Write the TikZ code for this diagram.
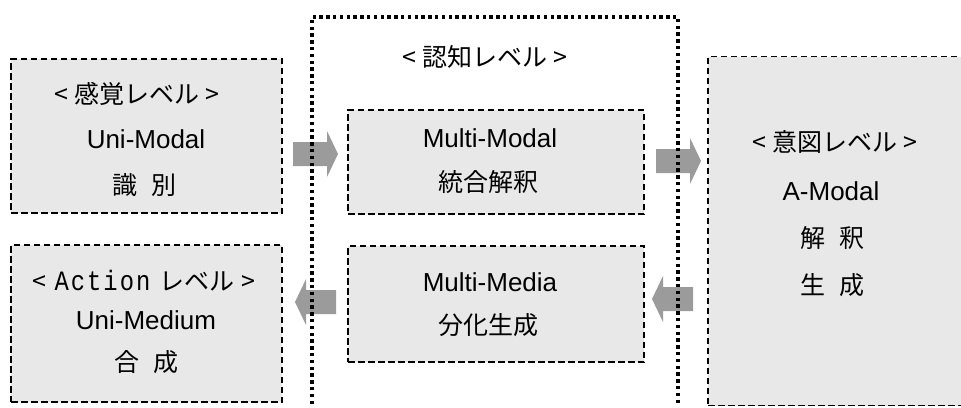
\documentclass[tikz,border=0pt]{standalone}
\usepackage{fontspec}
\setmainfont{Liberation Sans}
\newfontfamily\jp{Noto Sans CJK JP}
\newfontfamily\monofam[FakeStretch=0.85]{Liberation Mono}
\usetikzlibrary{calc}
\definecolor{boxfill}{RGB}{232,232,232}
\definecolor{arrcol}{RGB}{155,155,155}
\newcommand\rarr[2]{%
  \fill[arrcol] ($(#1)+(0,-12)$) -- ($(#2)+(-11,-12)$) -- ($(#2)+(-11,-23)$) -- (#2)
    -- ($(#2)+(-11,23)$) -- ($(#2)+(-11,12)$) -- ($(#1)+(0,12)$) -- cycle;}
\newcommand\larr[2]{%
  \fill[arrcol] ($(#1)+(0,-12)$) -- ($(#2)+(11,-12)$) -- ($(#2)+(11,-23)$) -- (#2)
    -- ($(#2)+(11,23)$) -- ($(#2)+(11,12)$) -- ($(#1)+(0,12)$) -- cycle;}
\newcommand\msp{\hspace{2pt}}
\begin{document}
\begin{tikzpicture}[x=1pt,y=-1pt,
  dbox/.style={draw=black, fill=boxfill, line width=1.5pt, dash pattern=on 6.5pt off 3.5pt,
    rectangle, inner sep=0pt},
  frame/.style={draw=black, line width=3.4pt, dash pattern=on 3.4pt off 3.4pt},
  txt/.style={font=\fontsize{26}{30}\selectfont, inner sep=0pt, anchor=center, text=black},
  jtxt/.style={font=\jp\fontsize{25}{30}\selectfont, inner sep=0pt, anchor=center, text=black},
]
\useasboundingbox (0,0) rectangle (961,407);
% boxes
\node[dbox, minimum width=271pt, minimum height=154pt] (ls) at (146.5,136) {};
\node[dbox, minimum width=271pt, minimum height=157pt] (la) at (146.5,323.5) {};
\node[dbox, minimum width=296pt, minimum height=104pt] (mm) at (496,162) {};
\node[dbox, minimum width=296pt, minimum height=116pt] (mg) at (496,304) {};
\node[dbox, minimum width=260pt, minimum height=349pt] (rb) at (838,231) {};
% block arrows
\coordinate (a1s) at (293,154); \coordinate (a1e) at (338,154);
\coordinate (a2s) at (656,161); \coordinate (a2e) at (701,161);
\coordinate (a3s) at (693,299); \coordinate (a3e) at (652,299);
\coordinate (a4s) at (336,302); \coordinate (a4e) at (295,302);
\rarr{a1s}{a1e}
\rarr{a2s}{a2e}
\larr{a3s}{a3e}
\larr{a4s}{a4e}
% dotted frame of cognition level
\coordinate (f1) at (312,404); \coordinate (f2) at (312,17);
\coordinate (f3) at (678,17); \coordinate (f4) at (678,404);
\draw[frame] (f1) -- (f2) -- (f3) -- (f4);
% texts
\node[jtxt] (t1) at (137,94) {<\hspace{6pt}感覚レベル\hspace{6pt}>};
\node[txt] (t2) at (146,139) {Uni-Modal};
\node[jtxt] (t3) at (144,185) {識\hspace{14pt}別};
\node[jtxt] (t4) at (144,281) {<\hspace{8pt}{\monofam\fontsize{28}{30}\selectfont A\msp c\msp t\msp i\msp o\msp n}\hspace{9pt}レベル\hspace{7pt}>};
\node[txt] (t5) at (146,320) {Uni-Medium};
\node[jtxt] (t6) at (146,362) {合\hspace{14pt}成};
\node[jtxt] (t7) at (485,57) {<\hspace{6pt}認知レベル\hspace{6pt}>};
\node[txt] (t8) at (490,138) {Multi-Modal};
\node[jtxt] (t9) at (488,182) {統合解釈};
\node[txt] (t10) at (490,282) {Multi-Media};
\node[jtxt] (t11) at (488,325) {分化生成};
\node[jtxt] (t12) at (835,142) {<\hspace{6pt}意図レベル\hspace{6pt}>};
\node[txt] (t13) at (831,191) {A-Modal};
\node[jtxt] (t14) at (832,238) {解\hspace{14pt}釈};
\node[jtxt] (t15) at (832,285) {生\hspace{14pt}成};
\end{tikzpicture}
\end{document}
